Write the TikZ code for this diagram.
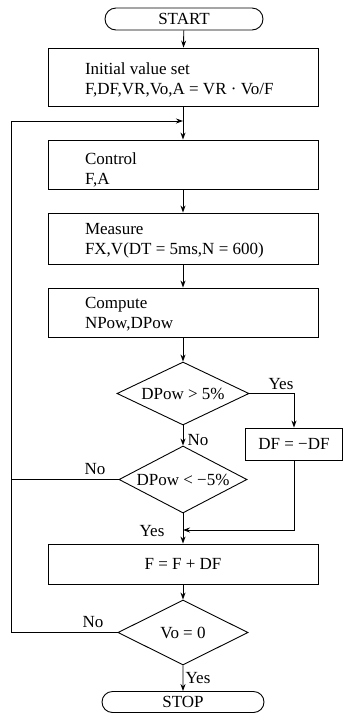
\documentclass[tikz,border=0pt]{standalone}
\usepackage{fontspec}
\setmainfont{Liberation Serif}
\usetikzlibrary{shapes.geometric,shapes.misc,arrows.meta}
\begin{document}
\begin{tikzpicture}[x=1pt,y=1pt,
  line width=0.9pt,
  >={Stealth[length=7pt,width=5pt]},
  every node/.style={font=\fontsize{17}{20}\selectfont},
  term/.style={draw, rounded rectangle, minimum height=22pt, inner sep=0pt},
  procbox/.style={draw, rectangle, minimum width=270pt, inner sep=0pt},
  boxtxt/.style={anchor=west, align=left, inner sep=0pt},
  decision/.style={draw, diamond, aspect=2, inner sep=0pt},
  lbl/.style={inner sep=0pt}]
\useasboundingbox (0,0) rectangle (344,-721);

\node[term, minimum width=158pt] (start) at (184,-19) {START};
\node[procbox, minimum height=58pt] (init) at (183,-77) {};
\node[boxtxt] (initt) at ([xshift=37pt,yshift=-3pt]init.west) {Initial value set\\F,DF,VR,Vo,A = VR · Vo/F};
\coordinate (j1) at (183,-121);
\node[procbox, minimum height=49pt] (ctrl) at (183,-164.5) {};
\node[boxtxt] (ctrlt) at ([xshift=37pt,yshift=-5pt]ctrl.west) {Control\\F,A};
\node[procbox, minimum height=51pt] (meas) at (183,-238.5) {};
\node[boxtxt] (meast) at ([xshift=37pt,yshift=-2pt]meas.west) {Measure\\FX,V(DT = 5ms,N = 600)};
\node[procbox, minimum height=49pt] (comp) at (183,-312.5) {};
\node[boxtxt] (compt) at ([xshift=37pt,yshift=-2pt]comp.west) {Compute\\NPow,DPow};
\node[decision, minimum width=132pt, minimum height=63pt] (d1) at (183,-393.5) {DPow > 5\%};
\node[draw, rectangle, minimum width=97pt, minimum height=32pt, inner sep=0pt] (df) at (294,-444) {DF = −DF};
\node[decision, minimum width=128pt, minimum height=67pt] (d2) at (183,-479.5) {DPow < −5\%};
\coordinate (j2) at (183,-530);
\node[procbox, minimum height=40pt] (fbox) at (183,-564) {F = F + DF};
\node[decision, minimum width=130pt, minimum height=65pt] (d3) at (183,-632.5) {Vo = 0};
\node[term, minimum width=162pt, minimum height=21pt] (stop) at (183,-702) {STOP};
\coordinate (lx) at (11,-121);

\draw[->] (start) -- (init);
\draw[->] (init) -- (ctrl);
\draw[->] (ctrl) -- (meas);
\draw[->] (meas) -- (comp);
\draw[->] (comp) -- (d1);
\draw[->] (d1) -- (d2);
\node[lbl] (no1) at (198,-440) {No};
\draw[->] (d1.east) -| (df.north);
\node[lbl] (yes1) at (281,-384) {Yes};
\draw[->] (df.south) |- (j2);
\draw[->] (d2.south) -- (fbox.north);
\node[lbl] (yes2) at (152,-531) {Yes};
\draw[->] (fbox) -- (d3);
\draw[->] (d3) -- (stop);
\node[lbl] (yes3) at (198,-678) {Yes};
\draw[->] (d3.west) -- (d3.west -| lx) -- (lx) -- (j1);
\node[lbl] (no3) at (93,-622) {No};
\draw (d2.west) -- (d2.west -| lx);
\node[lbl] (no2) at (95,-469) {No};
\end{tikzpicture}
\end{document}
